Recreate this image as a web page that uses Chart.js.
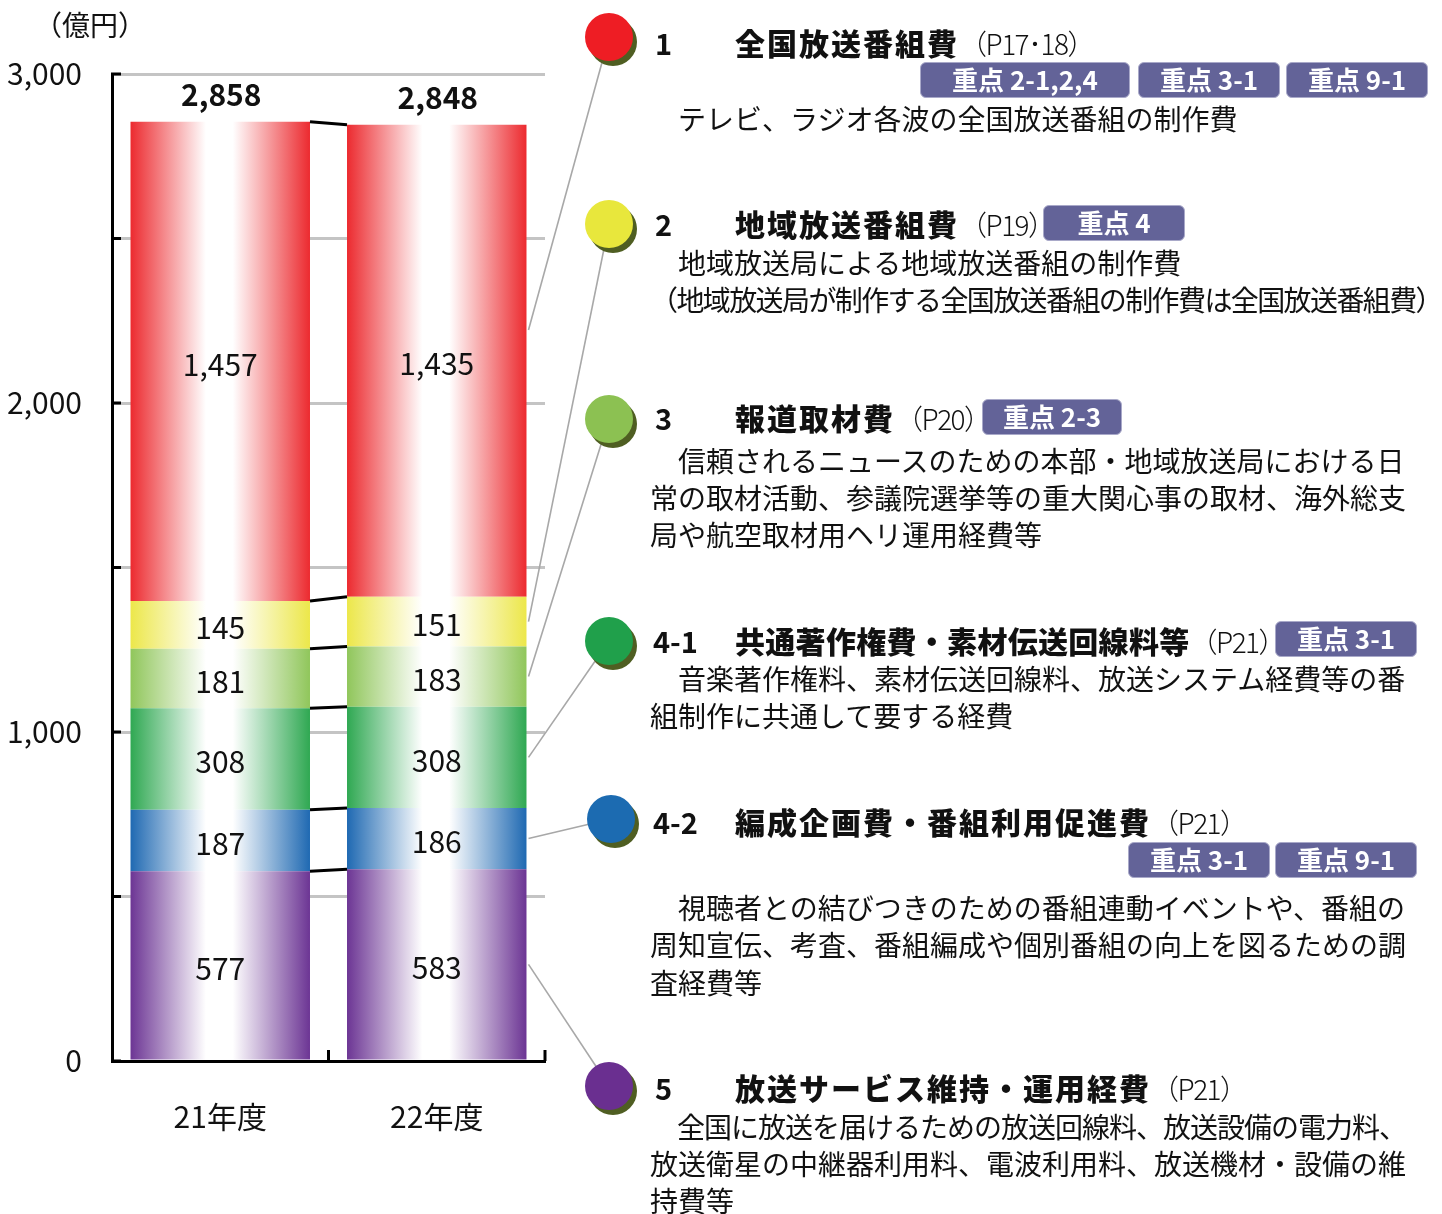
<!DOCTYPE html>
<html><head><meta charset="utf-8">
<script src="https://cdn.jsdelivr.net/npm/chart.js@4.4.1/dist/chart.umd.min.js"></script>
<style>
html,body{margin:0;padding:0;background:#fff;}
#wrap{position:relative;width:1442px;height:1214px;overflow:hidden;font-family:"Noto Sans CJK JP",sans-serif;color:#111;}
#c{position:absolute;left:0;top:0;}
.t{position:absolute;white-space:nowrap;}
.num{font-weight:700;font-size:29px;line-height:40px;}
.head{font-weight:900;font-size:30px;line-height:40px;letter-spacing:2px;}
.pg{font-weight:300;font-size:28px;letter-spacing:-1.5px;margin-left:0px;}
.badge{position:absolute;box-sizing:border-box;background:#636398;color:#fff;font-weight:700;font-size:26px;text-align:center;border:1.5px solid #a9a9c9;border-radius:6px;white-space:nowrap;}
.desc{font-size:28px;line-height:37px;font-weight:400;}
.unit{font-size:28px;line-height:34px;font-weight:400;}
</style></head>
<body><div id="wrap">
<canvas id="c" width="1442" height="1214"></canvas>
<div class="t unit" style="left:34px;top:7px;">（億円）</div>

<div class="t num" style="left:655px;top:22px;">1</div>
<div class="t head" style="left:735px;top:22px;">全国放送番組費<span class="pg">（P17･18）</span></div>
<div class="badge" style="left:920px;top:62px;width:210px;height:36px;line-height:32px;">重点 2-1,2,4</div>
<div class="badge" style="left:1138px;top:62px;width:142px;height:36px;line-height:32px;">重点 3-1</div>
<div class="badge" style="left:1286px;top:62px;width:142px;height:36px;line-height:32px;">重点 9-1</div>
<div class="t desc" style="left:650px;top:100px;">　テレビ、ラジオ各波の全国放送番組の制作費</div>

<div class="t num" style="left:655px;top:203px;">2</div>
<div class="t head" style="left:735px;top:203px;">地域放送番組費<span class="pg">（P19）</span></div>
<div class="badge" style="left:1043px;top:205px;width:142px;height:36px;line-height:32px;">重点 4</div>
<div class="t desc" style="left:650px;top:244px;">　地域放送局による地域放送番組の制作費</div>
<div class="t desc" style="left:650px;top:281px;letter-spacing:-1.6px;">（地域放送局が制作する全国放送番組の制作費は全国放送番組費）</div>

<div class="t num" style="left:655px;top:397px;">3</div>
<div class="t head" style="left:735px;top:397px;">報道取材費<span class="pg">（P20）</span></div>
<div class="badge" style="left:982px;top:399px;width:140px;height:36px;line-height:32px;">重点 2-3</div>
<div class="t desc" style="left:650px;top:442px;">　信頼されるニュースのための本部・地域放送局における日</div>
<div class="t desc" style="left:650px;top:479px;">常の取材活動、参議院選挙等の重大関心事の取材、海外総支</div>
<div class="t desc" style="left:650px;top:516px;">局や航空取材用ヘリ運用経費等</div>

<div class="t num" style="left:653px;top:620px;">4-1</div>
<div class="t head" style="left:735px;top:620px;letter-spacing:0.3px;">共通著作権費・素材伝送回線料等<span class="pg">（P21）</span></div>
<div class="badge" style="left:1275px;top:621px;width:142px;height:36px;line-height:32px;">重点 3-1</div>
<div class="t desc" style="left:650px;top:660px;">　音楽著作権料、素材伝送回線料、放送システム経費等の番</div>
<div class="t desc" style="left:650px;top:697px;">組制作に共通して要する経費</div>

<div class="t num" style="left:653px;top:801px;">4-2</div>
<div class="t head" style="left:735px;top:801px;">編成企画費・番組利用促進費<span class="pg">（P21）</span></div>
<div class="badge" style="left:1128px;top:842px;width:142px;height:36px;line-height:32px;">重点 3-1</div>
<div class="badge" style="left:1275px;top:842px;width:142px;height:36px;line-height:32px;">重点 9-1</div>
<div class="t desc" style="left:650px;top:889px;">　視聴者との結びつきのための番組連動イベントや、番組の</div>
<div class="t desc" style="left:650px;top:926px;">周知宣伝、考査、番組編成や個別番組の向上を図るための調</div>
<div class="t desc" style="left:650px;top:964px;">査経費等</div>

<div class="t num" style="left:655px;top:1067px;">5</div>
<div class="t head" style="left:735px;top:1067px;">放送サービス維持・運用経費<span class="pg">（P21）</span></div>
<div class="t desc" style="left:650px;top:1108px;letter-spacing:-1px;">　全国に放送を届けるための放送回線料、放送設備の電力料、</div>
<div class="t desc" style="left:650px;top:1145px;">放送衛星の中継器利用料、電波利用料、放送機材・設備の維</div>
<div class="t desc" style="left:650px;top:1182px;">持費等</div>
</div>
<script>
// ---- data ----
const categories = ['21年度', '22年度'];
const serviceCost = [577, 583];      // 5 放送サービス維持・運用経費
const henseiCost = [187, 186];       // 4-2 編成企画費・番組利用促進費
const kyotsuCost = [308, 308];       // 4-1 共通著作権費・素材伝送回線料等
const houdouCost = [181, 183];       // 3 報道取材費
const chiikiCost = [145, 151];       // 2 地域放送番組費
const zenkokuCost = [1457, 1435];    // 1 全国放送番組費
const totals = [2858, 2848];
const yMax = 3000;
const yStep = 500;

// ---- styles ----
const BAR_PCT = 0.829;
const NUMFONT = '"Noto Sans CJK JP", sans-serif';
const barColors = ['#6c3594', '#1f69b2', '#2fa852', '#90c65b', '#ece74a', '#ec2a2f'];
const dotColors = ['#6a2f90', '#1c6bb1', '#20a04b', '#8cc152', '#e8e73c', '#ee1d24'];
const markerPos = [[609,1086],[611,819],[609,641],[609,419],[609,224],[609,37]];
const anchorFrac = [0.5, 0.5, 0.5, 0.5, 0.5, 0.565];

function barFill(color){
  return (c) => {
    const chart = c.chart, xs = chart.scales.x;
    if (!xs || c.type !== 'data' || !xs.width) return color;
    const cx = xs.getPixelForValue(c.dataIndex);
    const half = xs.width / categories.length * BAR_PCT / 2;
    const g = chart.ctx.createLinearGradient(cx - half, 0, cx + half, 0);
    g.addColorStop(0, color);
    g.addColorStop(0.42, '#ffffff');
    g.addColorStop(0.57, '#ffffff');
    g.addColorStop(1, color);
    return g;
  };
}

const seriesData = [serviceCost, henseiCost, kyotsuCost, houdouCost, chiikiCost, zenkokuCost];
const datasets = seriesData.map((d, i) => ({
  data: d,
  backgroundColor: barFill(barColors[i]),
  borderWidth: 0,
  categoryPercentage: 1,
  barPercentage: BAR_PCT,
  stack: 's'
}));

const overlay = {
  id: 'overlay',
  afterDatasetsDraw(chart){
    const ctx = chart.ctx, a = chart.chartArea, ys = chart.scales.y, xs = chart.scales.x;
    ctx.save();
    // connectors between bars
    ctx.strokeStyle = '#000'; ctx.lineWidth = 3;
    datasets.forEach((ds, i) => {
      const m = chart.getDatasetMeta(i);
      const e0 = m.data[0], e1 = m.data[1];
      ctx.beginPath();
      ctx.moveTo(e0.x + e0.width/2, e0.y);
      ctx.lineTo(e1.x - e1.width/2, e1.y);
      ctx.stroke();
    });
    // inward y ticks
    ys.ticks.forEach(t => {
      const y = ys.getPixelForValue(t.value);
      ctx.beginPath(); ctx.moveTo(a.left - 1, y); ctx.lineTo(a.left + 9, y); ctx.stroke();
    });
    // x boundary ticks
    for (let i = 0; i < categories.length; i++){
      const x = xs.getPixelForValue(i + 0.5);
      ctx.beginPath(); ctx.moveTo(x, a.bottom); ctx.lineTo(x, a.bottom - 11); ctx.stroke();
    }
    // value labels
    ctx.fillStyle = '#111';
    ctx.textAlign = 'center'; ctx.textBaseline = 'middle';
    ctx.font = '400 30px ' + NUMFONT;
    datasets.forEach((ds, i) => {
      const m = chart.getDatasetMeta(i);
      m.data.forEach((e, j) => {
        ctx.fillText(ds.data[j].toLocaleString('en-US'), e.x, (e.y + e.base)/2 + 3);
      });
    });
    // totals
    ctx.font = 'bold 30px ' + NUMFONT;
    const top = chart.getDatasetMeta(datasets.length - 1);
    top.data.forEach((e, j) => {
      ctx.fillText(totals[j].toLocaleString('en-US'), e.x + 1, ys.getPixelForValue(totals[j]) - 26);
    });
    // leader lines
    ctx.strokeStyle = '#a8a8a8'; ctx.lineWidth = 1.6;
    datasets.forEach((ds, i) => {
      const e = chart.getDatasetMeta(i).data[1];
      const y = e.base + (e.y - e.base) * anchorFrac[i];
      ctx.beginPath();
      ctx.moveTo(e.x + e.width/2 + 2, y);
      ctx.lineTo(markerPos[i][0], markerPos[i][1]);
      ctx.stroke();
    });
    // markers
    markerPos.forEach((p, i) => {
      ctx.fillStyle = '#4f5e22';
      ctx.beginPath(); ctx.ellipse(p[0] + 4, p[1] + 5, 24, 24, 0, 0, Math.PI*2); ctx.fill();
      ctx.fillStyle = dotColors[i];
      ctx.beginPath(); ctx.ellipse(p[0], p[1], 24, 24, 0, 0, Math.PI*2); ctx.fill();
    });
    ctx.restore();
  }
};

new Chart(document.getElementById('c'), {
  type: 'bar',
  data: { labels: categories, datasets },
  options: {
    responsive: false,
    animation: false,
    events: [],
    layout: { padding: { left: -2, top: 74, right: 897, bottom: 0 } },
    plugins: { legend: { display: false }, tooltip: { enabled: false } },
    scales: {
      x: {
        stacked: true,
        grid: { display: false, drawTicks: false },
        border: { display: true, color: '#000', width: 3 },
        ticks: { color: '#111', font: { family: NUMFONT, size: 30, weight: '400' }, padding: 38 },
        afterFit(s){ s.height = 1214 - 1061; }
      },
      y: {
        stacked: true,
        min: 0, max: yMax,
        grid: { color: '#c4c4c4', lineWidth: 3, drawTicks: false },
        border: { display: true, color: '#000', width: 3 },
        ticks: {
          stepSize: yStep,
          color: '#111',
          font: { family: NUMFONT, size: 30, weight: '400' },
          padding: 30,
          callback: v => (v % 1000 === 0 ? v.toLocaleString('en-US') : '')
        },
        afterFit(s){ s.width = 114; }
      }
    }
  },
  plugins: [overlay]
});
</script>
</body></html>
